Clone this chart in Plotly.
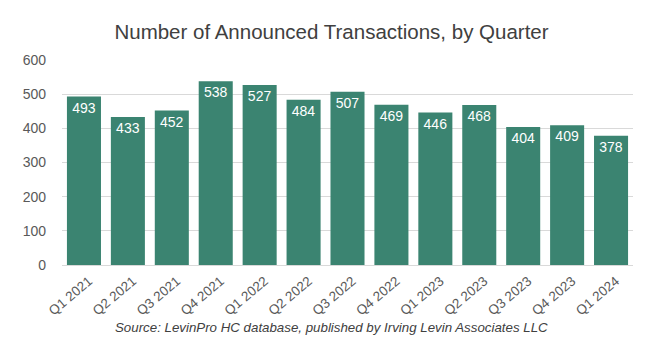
import plotly.graph_objects as go

quarters = ["Q1 2021", "Q2 2021", "Q3 2021", "Q4 2021", "Q1 2022", "Q2 2022", "Q3 2022",
            "Q4 2022", "Q1 2023", "Q2 2023", "Q3 2023", "Q4 2023", "Q1 2024"]
transactions = [493, 433, 452, 538, 527, 484, 507, 469, 446, 468, 404, 409, 378]
y_ticks = [0, 100, 200, 300, 400, 500, 600]

FONT = "Liberation Sans, Arial, sans-serif"

fig = go.Figure(go.Bar(
    x=quarters, y=transactions,
    marker=dict(color="#3b8471", line=dict(width=0)),
    text=[str(v) for v in transactions],
    textposition="inside", insidetextanchor="end",
    textfont=dict(color="white", size=14, family=FONT),
    textangle=0,
))

fig.update_layout(
    width=650, height=349,
    margin=dict(l=62, r=17, t=60, b=84),
    paper_bgcolor="white", plot_bgcolor="white",
    bargap=0.225,
    showlegend=False,
    title=dict(text="Number of Announced Transactions, by Quarter",
               x=0.51, xanchor="center", y=0.91, yanchor="middle",
               font=dict(size=20.5, color="#404040", family=FONT)),
    font=dict(family=FONT, color="#595959"),
    uniformtext=dict(minsize=14, mode="show"),
    annotations=[dict(text="<i>Source: LevinPro HC database, published by Irving Levin Associates LLC</i>",
                      xref="paper", yref="paper", x=0.472, y=-0.305, xanchor="center", yanchor="middle",
                      showarrow=False, font=dict(size=13.3, color="#404040", family=FONT))],
)
fig.update_yaxes(range=[0, 600], tickvals=y_ticks, showgrid=True, gridcolor="#d9d9d9",
                 gridwidth=1, zeroline=False, showline=False,
                 tickfont=dict(size=14, color="#595959"), ticks="", ticklabelstandoff=15)
fig.update_xaxes(tickangle=-40, showline=True, linecolor="#d9d9d9", linewidth=1,
                 tickfont=dict(size=13.5, color="#595959"), ticks="",
                 ticklabelshift=5, ticklabelstandoff=2)

fig.write_html("out.html")
